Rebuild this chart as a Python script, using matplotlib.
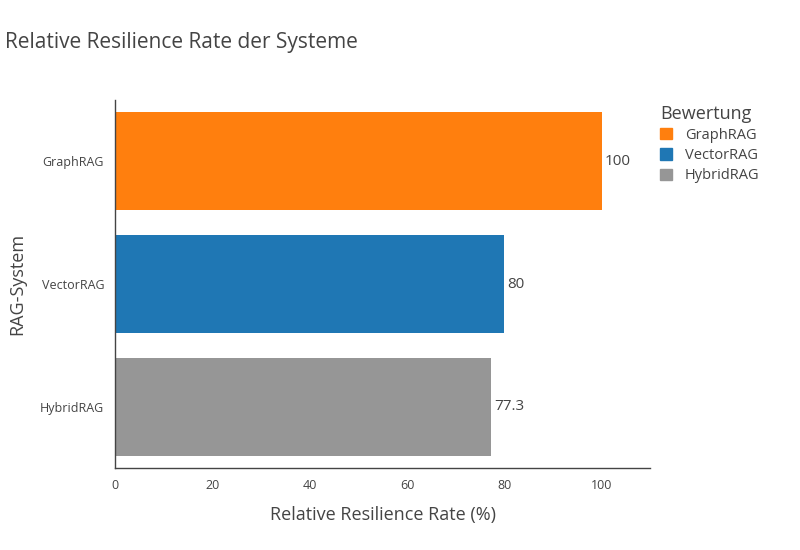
import matplotlib
matplotlib.use("Agg")
import matplotlib.pyplot as plt
from matplotlib.patches import Patch

systems = ["GraphRAG", "VectorRAG", "HybridRAG"]
rates = [100, 80, 77.3]
labels = ["100", "80", "77.3"]
colors = ["#ff7f0e", "#1f77b4", "#969696"]
xticks = [0, 20, 40, 60, 80, 100]

plt.rcParams["font.family"] = ["Open Sans", "DejaVu Sans"]
TXT = "#444444"

fig = plt.figure(figsize=(8, 5.5), dpi=100)
ax = fig.add_axes([0.144, 0.149, 0.669, 0.669])
ypos = list(range(len(systems)))
ax.barh(ypos, rates, height=0.8, color=colors)
for y, v, lab in zip(ypos, rates, labels):
    ax.text(v + 0.6, y, lab, va="center", ha="left", fontsize=11, color=TXT)
ax.set_ylim(2.5, -0.5)
ax.set_xlim(0, 110)
ax.set_yticks(ypos)
ax.set_yticklabels(systems)
ax.set_xticks(xticks)
ax.tick_params(length=0, labelsize=9, colors=TXT, pad=8)
for s in ["top", "right"]:
    ax.spines[s].set_visible(False)
for s in ["left", "bottom"]:
    ax.spines[s].set_color("#444444")
    ax.spines[s].set_linewidth(1)
ax.set_xlabel("Relative Resilience Rate (%)", fontsize=13, color=TXT, labelpad=10)
ax.set_ylabel("RAG-System", fontsize=13, color=TXT, labelpad=10)
fig.text(0.006, 0.922, "Relative Resilience Rate der Systeme", fontsize=15, color=TXT, va="center")

handles = [Patch(color=c, label=s) for c, s in zip(colors, systems)]
leg = fig.legend(handles=handles, title="Bewertung", loc="upper left",
                 bbox_to_anchor=(0.818, 0.82), frameon=False, fontsize=10.5,
                 title_fontsize=13, handlelength=0.8, handleheight=0.8,
                 labelspacing=0.35, handletextpad=0.9, borderaxespad=0)
leg._legend_box.align = "left"
for t in leg.get_texts():
    t.set_color(TXT)
leg.get_title().set_color(TXT)

fig.savefig("out.png")
